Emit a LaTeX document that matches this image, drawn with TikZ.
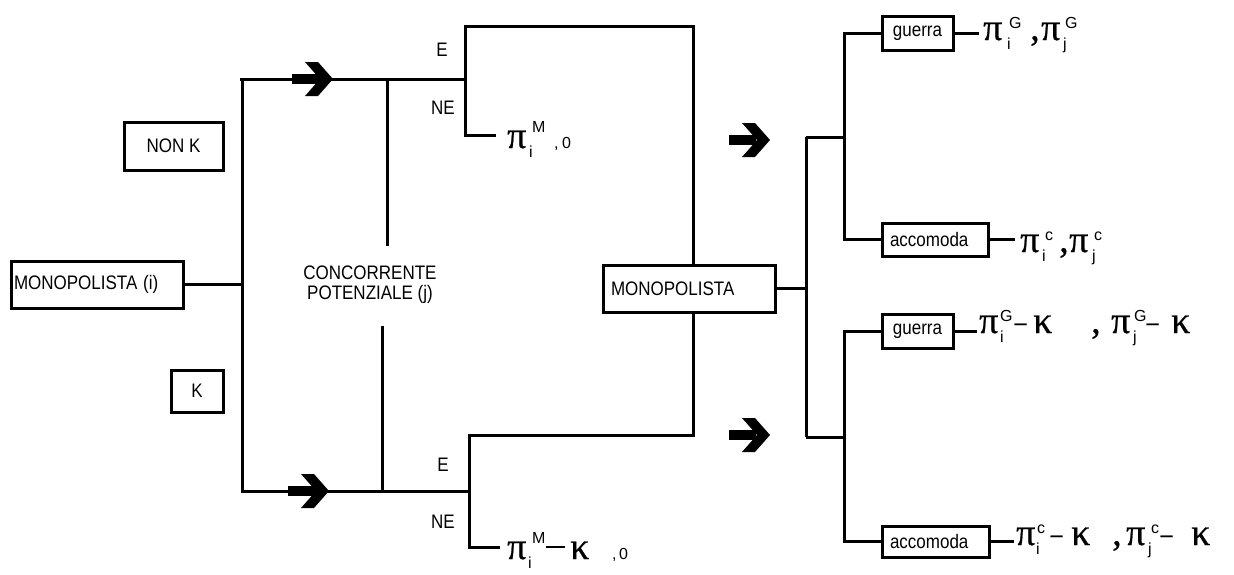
\documentclass[tikz,border=0pt]{standalone}
\usepackage{graphicx}
\usepackage{fontspec}
\setmainfont{Liberation Sans}
\newfontfamily\grfont{Liberation Serif}[FakeBold=0.6]
\newcommand\gk[1]{{\grfont\fontsize{38}{38}\selectfont #1}}
\newcommand\mn{{\grfont\fontsize{26}{26}\selectfont −}}
\newcommand\scr{\fontsize{16}{16}\selectfont}
\newcommand\at[2]{\rlap{\hspace*{#1pt}#2}}
\newcommand\up[3]{\at{#1}{\raisebox{#2pt}{\scr #3}}}
\newcommand\tx[1]{\scalebox{1}[1.15]{#1}}
\tikzset{
  ln/.style={line width=3pt},
  lbox/.style={draw, line width=3pt, inner sep=0pt, font=\fontsize{17}{17}\selectfont},
  lbl/.style={inner sep=0pt, font=\fontsize{17}{20}\selectfont},
  frm/.style={inner sep=0pt, anchor=base west},
  chev/.pic={
    \fill (0,-5) rectangle (27,5);
    \fill (13,-17) -- (26,-17) -- (41,0) -- (26,17) -- (13,17) -- (28,0) -- cycle;
  }
}
\begin{document}
\begin{tikzpicture}[x=1pt,y=-1pt]
\useasboundingbox (0,0) rectangle (1234,574);

% boxes
\node[lbox, text width=166pt, inner xsep=3pt, minimum height=47pt, align=left] (mi) at (97,284.5) {\tx{MONOPOLISTA (i)}};
\node[lbox, minimum width=99pt, minimum height=48pt] (nonk) at (173.5,146) {\tx{NON K}};
\node[lbox, minimum width=52pt, minimum height=42pt] (k) at (197,391) {\tx{K}};
\node[lbox, text width=156pt, inner xsep=8pt, minimum height=47pt, align=left] (mono) at (689,288.5) {\tx{MONOPOLISTA}};
\node[lbox, minimum width=71pt, minimum height=34pt] (g1) at (917.5,33) {\tx{guerra}};
\node[lbox, text width=90pt, inner xsep=8pt, minimum height=33pt, align=left] (a1) at (935,239.5) {\tx{accomoda}};
\node[lbox, minimum width=71pt, minimum height=34pt] (g2) at (917.5,331) {\tx{guerra}};
\node[lbox, text width=91pt, inner xsep=8pt, minimum height=31pt, align=left] (a2) at (935.5,541.5) {\tx{accomoda}};

% labels
\node[lbl, align=center] (cp) at (370,285) {\tx{CONCORRENTE}\\\tx{POTENZIALE (j)}};
\node[lbl] (e1) at (442,50) {\tx{E}};
\node[lbl] (ne1) at (443,108) {\tx{NE}};
\node[lbl] (e2) at (443,465) {\tx{E}};
\node[lbl] (ne2) at (443,522) {\tx{NE}};

% coordinates
\coordinate (jl) at (242,284.5);
\coordinate (tl) at (242,79);
\coordinate (bl) at (242,491);
\coordinate (na) at (465,79);
\coordinate (nb) at (469,491);
\coordinate (ca) at (387,79);
\coordinate (cae) at (387,246);
\coordinate (cb) at (382,491);
\coordinate (cbe) at (382,326);
\coordinate (naE) at (465,26);
\coordinate (naN) at (465,135);
\coordinate (naNe) at (496,135);
\coordinate (nbE) at (469,435);
\coordinate (nbN) at (469,547);
\coordinate (nbNe) at (500,547);
\coordinate (r0) at (806,288.5);
\coordinate (rt) at (806,137);
\coordinate (rb) at (806,437);
\coordinate (st) at (844,137);
\coordinate (sb) at (844,437);
\coordinate (g1w) at (844,33);
\coordinate (a1w) at (844,239.5);
\coordinate (g2w) at (844,331);
\coordinate (a2w) at (844,541.5);
\coordinate (g1e) at (979,33);
\coordinate (a1e) at (1015,239.5);
\coordinate (g2e) at (977,331);
\coordinate (a2e) at (1014,541.5);

% connectors
\draw[ln] (mi.east) -- (jl);
\draw[ln] ([xshift=-2pt]tl) -- (na);
\draw[ln] (tl) -- (bl) -- (nb);
\draw[ln] (ca) -- (cae);
\draw[ln] (cbe) -- (cb);
\draw[ln] (naE) -- (naN) -- (naNe);
\draw[ln] ([yshift=1.5pt]naE) |- (693,26) -- (mono.north -| 693,0);
\draw[ln] (nbE) -- (nbN) -- (nbNe);
\draw[ln] (nb) -- (nbE) -- (693,435) -- (mono.south -| 693,0);
\draw[ln] (mono.east) -- (r0);
\draw[ln] (rt) -- (rb);
\draw[ln] (rt) -- (st);
\draw[ln] (rb) -- (sb);
\draw[ln] (g1.west) -- (g1w) -- (a1w) -- (a1.west);
\draw[ln] (g2.west) -- (g2w) -- (a2w) -- (a2.west);
\draw[ln] (g1.east) -- (g1e);
\draw[ln] (a1.east) -- (a1e);
\draw[ln] (g2.east) -- (g2e);
\draw[ln] (a2.east) -- (a2e);

% arrows
\pic at (292,79) {chev};
\pic at (288,491) {chev};
\pic at (729,140) {chev};
\pic at (729,435) {chev};

% payoffs
\node[frm] (f1) at (507,148) {\at{0}{\gk{π}}\up{22}{-9}{i}\up{25}{16}{M}\up{47}{0}{,}\up{55}{0}{0}\hspace*{66pt}};
\node[frm] (f2) at (507,559) {\at{0}{\gk{π}}\up{21}{-9}{i}\up{25}{16}{M}\at{39}{\raisebox{11pt}{\rule{19pt}{2pt}}}\at{63}{\gk{κ}}\up{105}{0}{,}\up{112}{0}{0}\hspace*{122pt}};
\node[frm] (f3) at (983,40) {\at{0}{\gk{π}}\up{24}{-9}{i}\up{26}{12}{G}\at{47}{\gk{,}}\at{58}{\gk{π}}\up{80}{-9}{j}\up{82}{12}{G}\hspace*{92pt}};
\node[frm] (f4) at (1020,252) {\at{0}{\gk{π}}\up{22}{-9}{i}\up{25}{12}{c}\at{39}{\gk{,}}\at{49}{\gk{π}}\up{72}{-9}{j}\up{74}{12}{c}\hspace*{82pt}};
\node[frm] (f5) at (979,333) {\at{0}{\gk{π}}\up{21}{-9}{i}\up{21}{12}{G}\at{34}{\mn}\at{54}{\gk{κ}}\at{112}{\gk{,}}\at{132}{\gk{π}}\up{154}{-9}{j}\up{155}{12}{G}\at{166}{\mn}\at{192}{\gk{κ}}\hspace*{213pt}};
\node[frm] (f6) at (1016,545) {\at{0}{\gk{π}}\up{20}{-9}{i}\up{21}{12}{c}\at{33}{\mn}\at{55}{\gk{κ}}\at{96}{\gk{,}}\at{110}{\gk{π}}\up{132}{-9}{j}\up{135}{12}{c}\at{143}{\mn}\at{175}{\gk{κ}}\hspace*{196pt}};
\end{tikzpicture}
\end{document}
